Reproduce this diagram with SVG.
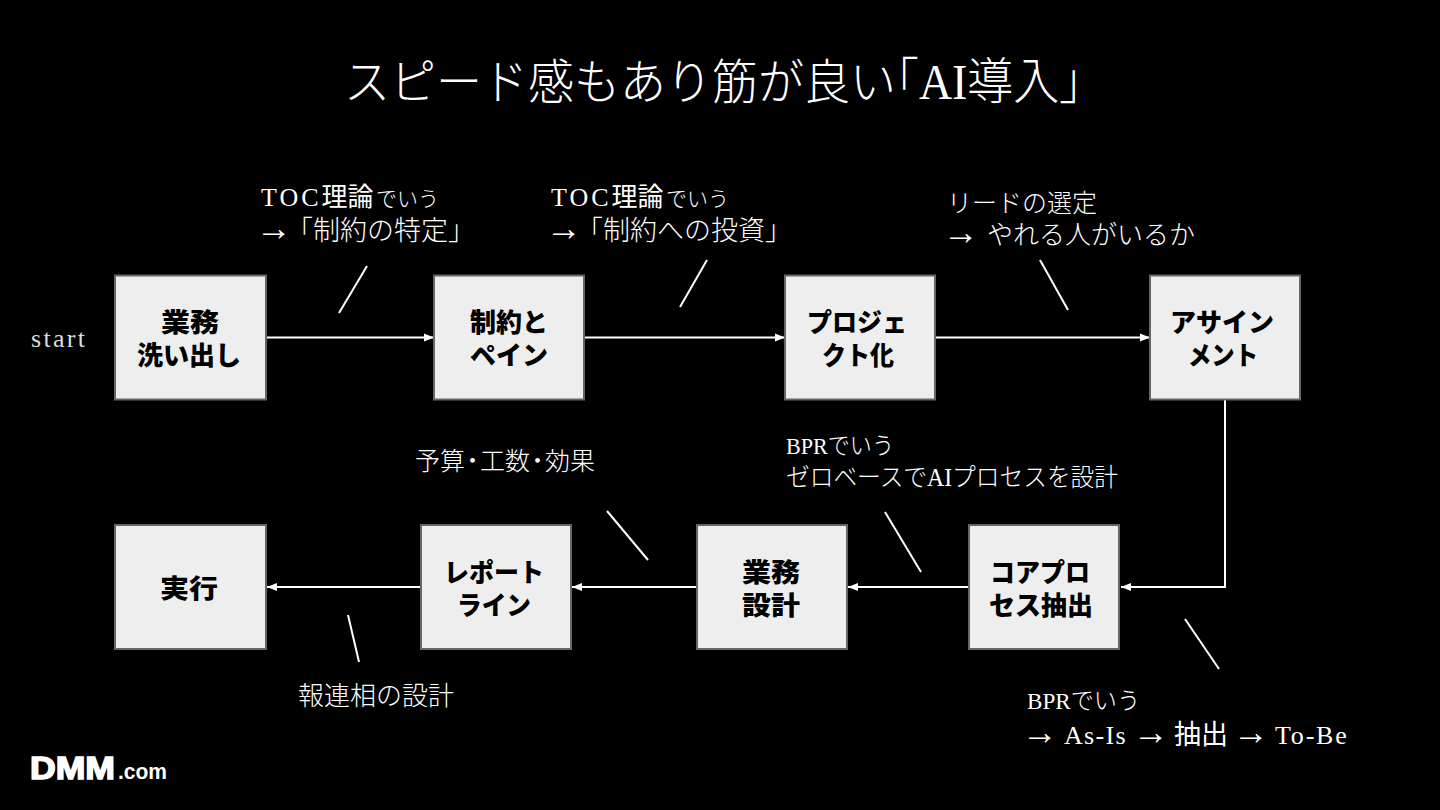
<svg xmlns="http://www.w3.org/2000/svg" width="1440" height="810" viewBox="0 0 1440 810">
<style>
.s{font-family:"Liberation Serif","Noto Sans CJK JP",serif;fill:#fff;font-weight:300}
.l{font-size:25px}
.q{font-size:27px}
.toc{letter-spacing:3px;font-size:26px}
.k{font-size:26px;letter-spacing:0;font-weight:400}
.d{font-size:21px;letter-spacing:0}
.w{font-size:36px}
.b{font-family:"Noto Sans CJK JP","Liberation Sans",sans-serif;font-weight:900;font-size:26px;fill:#000;text-anchor:middle}
.n{fill:#eee;stroke:#666;stroke-width:2}
.c{fill:none;stroke:#fff;stroke-width:2}
.t{stroke:#fff;stroke-width:2}
</style>
<defs><marker id="a" viewBox="0 0 10 10" refX="10" refY="5" markerWidth="10" markerHeight="10" markerUnits="userSpaceOnUse" orient="auto"><path d="M0 1L10 5L0 9Z" fill="#fff"/></marker></defs>
<rect width="1440" height="810" fill="#000"/>
<text class="s" x="344" y="99" font-size="48" textLength="552" lengthAdjust="spacingAndGlyphs">スピード感もあり筋が良い</text>
<text class="s" x="873" y="99" font-size="50" textLength="232" lengthAdjust="spacingAndGlyphs">「AI導入」</text>
<g id="connectors">
<path class="c" d="M267 337.500H434" marker-end="url(#a)"/>
<path class="c" d="M585 337.500H785" marker-end="url(#a)"/>
<path class="c" d="M936 337.500H1150" marker-end="url(#a)"/>
<path class="c" d="M1225 400V587H1121" marker-end="url(#a)"/>
<path class="c" d="M968 587H848" marker-end="url(#a)"/>
<path class="c" d="M696 587H572" marker-end="url(#a)"/>
<path class="c" d="M420 587H267" marker-end="url(#a)"/>
<line class="t" x1="367" y1="266" x2="339" y2="313"/>
<line class="t" x1="707" y1="260" x2="680" y2="307"/>
<line class="t" x1="1040" y1="260" x2="1068" y2="310"/>
<line class="t" x1="885" y1="512" x2="921" y2="572"/>
<line class="t" x1="607" y1="511" x2="648" y2="560"/>
<line class="t" x1="1185" y1="619" x2="1219" y2="669"/>
<line class="t" x1="348" y1="615" x2="359" y2="662"/>
</g>
<g id="n1"><rect class="n" x="115" y="275.500" width="151" height="124"/><text class="b" x="190" y="332" textLength="58" lengthAdjust="spacingAndGlyphs">業務</text><text class="b" x="189" y="365">洗い出し</text></g>
<g id="n2"><rect class="n" x="434" y="275.500" width="150" height="124"/><text class="b" x="509" y="332">制約と</text><text class="b" x="509" y="365">ペイン</text></g>
<g id="n3"><rect class="n" x="785" y="275.500" width="150" height="124"/><text class="b" x="857" y="332" textLength="100" lengthAdjust="spacingAndGlyphs">プロジェ</text><text class="b" x="858" y="365" textLength="72" lengthAdjust="spacingAndGlyphs">クト化</text></g>
<g id="n4"><rect class="n" x="1150" y="275.500" width="150" height="124"/><text class="b" x="1222" y="332">アサイン</text><text class="b" x="1223" y="365" textLength="70" lengthAdjust="spacingAndGlyphs">メント</text></g>
<g id="n5"><rect class="n" x="969" y="525" width="150" height="124"/><text class="b" x="1040" y="582" textLength="100" lengthAdjust="spacingAndGlyphs">コアプロ</text><text class="b" x="1041" y="615">セス抽出</text></g>
<g id="n6"><rect class="n" x="697" y="525" width="150" height="124"/><text class="b" x="771" y="582" textLength="58" lengthAdjust="spacingAndGlyphs">業務</text><text class="b" x="771" y="615" textLength="58" lengthAdjust="spacingAndGlyphs">設計</text></g>
<g id="n7"><rect class="n" x="421" y="525" width="150" height="124"/><text class="b" x="494" y="582" textLength="100" lengthAdjust="spacingAndGlyphs">レポート</text><text class="b" x="494" y="615" textLength="74" lengthAdjust="spacingAndGlyphs">ライン</text></g>
<g id="n8"><rect class="n" x="115" y="525" width="151" height="124"/><text class="b" x="189" y="598" textLength="58" lengthAdjust="spacingAndGlyphs">実行</text></g>
<text class="s" x="31" y="347" font-size="26" style="fill:#ddd" textLength="54">start</text>
<text class="s toc" x="261" y="206">TOC<tspan class="k">理論</tspan><tspan class="d" x="376">でいう</tspan></text>
<text class="s q" x="256" y="240"><tspan class="w">→</tspan><tspan x="286">「制約の特定」</tspan></text>
<text class="s toc" x="551" y="206">TOC<tspan class="k">理論</tspan><tspan class="d" x="666">でいう</tspan></text>
<text class="s q" x="546" y="240"><tspan class="w">→</tspan><tspan x="576">「制約への投資」</tspan></text>
<text class="s l" x="947" y="212">リードの選定</text>
<text class="s" x="943" y="244" font-size="26"><tspan class="w">→</tspan><tspan x="987">やれる人がいるか</tspan></text>
<text class="s" x="786" y="454" font-size="24" textLength="108" lengthAdjust="spacingAndGlyphs">BPRでいう</text>
<text class="s l" x="786" y="486" textLength="332" lengthAdjust="spacingAndGlyphs">ゼロベースでAIプロセスを設計</text>
<text class="s l" x="415" y="470">予算<tspan x="460">・</tspan><tspan x="480">工数</tspan><tspan x="525">・</tspan><tspan x="545">効果</tspan></text>
<text class="s" x="298" y="705" font-size="26">報連相の設計</text>
<text class="s" x="1027" y="709" font-size="24" textLength="113" lengthAdjust="spacingAndGlyphs">BPRでいう</text>
<text class="s" x="1022" y="744" font-size="26"><tspan class="w">→</tspan><tspan x="1064" letter-spacing="1.300">As-Is</tspan><tspan x="1133" class="w">→</tspan><tspan x="1174" font-size="27" font-weight="400">抽出</tspan><tspan x="1233" class="w">→</tspan><tspan x="1275" letter-spacing="1.800">To-Be</tspan></text>
<g id="logo"><text x="30" y="779" font-family="Liberation Sans,sans-serif" font-weight="700" font-size="32" fill="#fff" stroke="#fff" stroke-width="1.500" textLength="85" lengthAdjust="spacingAndGlyphs">DMM</text><text x="118" y="779" font-family="Liberation Sans,sans-serif" font-weight="700" font-size="22" fill="#fff" textLength="49" lengthAdjust="spacingAndGlyphs">.com</text></g>
</svg>
